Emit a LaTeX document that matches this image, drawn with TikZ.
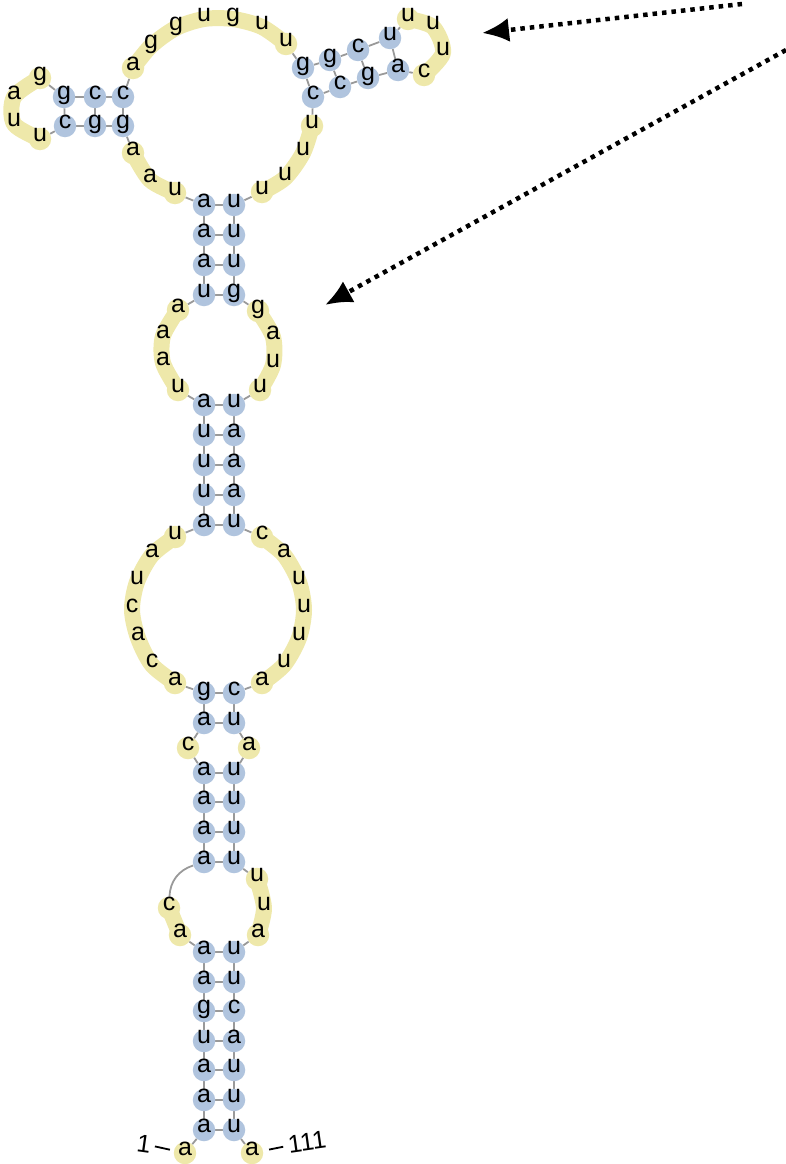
\documentclass[tikz,border=0pt]{standalone}
\usepackage{fontspec}
\setmainfont{Liberation Sans}
\usepackage{xcolor}
\usepackage{tikz}
\usetikzlibrary{arrows.meta, backgrounds}

\definecolor{stemblue}{RGB}{176,196,222}
\definecolor{loopyellow}{RGB}{238,232,170}
\definecolor{linkgray}{RGB}{153,153,153}

\begin{document}
\begin{tikzpicture}[x=1pt, y=-1pt,
	nt/.style={circle, minimum size=22.5pt, inner sep=0pt, text height=1ex, text depth=0pt, font=\fontsize{25}{25}\selectfont},
	ntp/.style={nt, fill=stemblue},
	ntu/.style={nt},
	nte/.style={nt, fill=loopyellow},
	bb/.style={draw=linkgray, line width=1.8pt},
	band/.style={draw=loopyellow, line width=16pt, line cap=round, line join=round},
	num/.style={inner sep=0pt, font=\fontsize{25}{25}\selectfont},
	pointer/.style={line width=4.5pt, dash pattern=on 4.5pt off 5pt, -{Latex[length=27pt,width=24pt]}}]
			\useasboundingbox (0,0) rectangle (786,1164);
			
			% nucleotides, 5' to 3'
			\foreach \i/\x/\y/\base/\t in {
				1/185/1153/a/e, 2/204/1130/a/p, 3/204/1100/a/p, 4/204/1070/a/p,
				5/204/1041/u/p, 6/204/1011/g/p, 7/204/982/a/p, 8/204/952/a/p,
				9/180/935/a/e, 10/169/908/c/e,
				11/204/862/a/p, 12/204/832/a/p, 13/204/802/a/p, 14/204/773/a/p,
				15/188/748/c/e, 16/204/723/a/p, 17/204/693/g/p,
				18/175/683/a/e, 19/152/665/c/u, 20/138/638/a/u, 21/132/610/c/u,
				22/137/582/u/u, 23/152/555/a/u, 24/175/537/u/e,
				25/204/525/a/p, 26/204/495/u/p, 27/204/465/u/p, 28/204/435/u/p, 29/204/405/a/p,
				30/178/390/u/e, 31/163/363/a/u, 32/163/336/a/u, 33/178/310/a/e,
				34/204/295/u/p, 35/204/265/a/p, 36/204/235/a/p, 37/204/205/a/p,
				38/175/193/u/e, 39/150/180/a/u, 40/133/153/a/e,
				41/123/126/g/p, 42/95/126/g/p, 43/65/126/c/p,
				44/40/139/u/e, 45/14/124/u/u, 46/14/97/a/u, 47/40/78/g/e,
				48/64/97/g/p, 49/95/97/c/p, 50/123/97/c/p,
				51/133/68/a/e, 52/151/46/g/u, 53/176/28/g/u, 54/204/19/u/u,
				55/233/19/g/u, 56/262/27/u/u, 57/286/44/u/e,
				58/303/68/g/p, 59/330/60/g/p, 60/358/50/c/p, 61/390/38/u/p,
				62/408/19/u/e, 63/433/27/u/u, 64/443/53/u/u, 65/424/75/c/e,
				66/398/70/a/p, 67/368/78/g/p, 68/340/87/c/p, 69/313/97/c/p,
				70/312/126/u/e, 71/303/153/u/u, 72/285/178/u/u, 73/262/192/u/e,
				74/234/205/u/p, 75/234/235/u/p, 76/234/265/u/p, 77/234/295/g/p,
				78/258/311/g/e, 79/273/337/a/u, 80/273/365/u/u, 81/260/390/u/e,
				82/234/405/u/p, 83/234/435/a/p, 84/234/465/a/p, 85/234/495/a/p, 86/234/525/u/p,
				87/262/537/c/e, 88/284/555/a/u, 89/299/582/u/u, 90/304/610/u/u,
				91/299/638/u/u, 92/284/665/u/u, 93/262/683/a/e,
				94/234/693/c/p, 95/234/723/u/p, 96/249/748/a/e,
				97/234/773/u/p, 98/234/802/u/p, 99/234/832/u/p, 100/234/862/u/p,
				101/257/879/u/e, 102/264/908/u/u, 103/258/935/a/e,
				104/234/952/u/p, 105/234/982/u/p, 106/234/1011/c/p, 107/234/1041/a/p,
				108/234/1070/u/p, 109/234/1100/u/p, 110/234/1130/u/p,
				111/252/1153/a/e}{
				\node[nt\t] (n\i) at (\x,\y) {\base};
			}
			
			\begin{scope}[on background layer]
				% backbone
				\foreach \i in {1,...,9,11,12,...,110}{
					\pgfmathtruncatemacro{\j}{\i+1}
					\draw[bb] (n\i) -- (n\j);
				}
				\draw[bb] (n10) to[bend left=35] (n11);
				% base pairs
				\foreach \a/\b in {
					2/110, 3/109, 4/108, 5/107, 6/106, 7/105, 8/104,
					11/100, 12/99, 13/98, 14/97, 16/95, 17/94,
					25/86, 26/85, 27/84, 28/83, 29/82,
					34/77, 35/76, 36/75, 37/74,
					41/50, 42/49, 43/48,
					58/69, 59/68, 60/67, 61/66}{
					\draw[bb] (n\a) -- (n\b);
				}
				% unpaired stretches
				\draw[band] (n9.center) -- (n10.center);
				\draw[band] plot[smooth] coordinates {(n18.center) (n19.center) (n20.center) (n21.center) (n22.center) (n23.center) (n24.center)};
				\draw[band] plot[smooth] coordinates {(n30.center) (n31.center) (n32.center) (n33.center)};
				\draw[band] plot[smooth] coordinates {(n38.center) (n39.center) (n40.center)};
				\draw[band] plot[smooth] coordinates {(n44.center) (n45.center) (n46.center) (n47.center)};
				\draw[band] plot[smooth] coordinates {(n51.center) (n52.center) (n53.center) (n54.center) (n55.center) (n56.center) (n57.center)};
				\draw[band] plot[smooth] coordinates {(n62.center) (n63.center) (n64.center) (n65.center)};
				\draw[band] plot[smooth] coordinates {(n70.center) (n71.center) (n72.center) (n73.center)};
				\draw[band] plot[smooth] coordinates {(n78.center) (n79.center) (n80.center) (n81.center)};
				\draw[band] plot[smooth] coordinates {(n87.center) (n88.center) (n89.center) (n90.center) (n91.center) (n92.center) (n93.center)};
				\draw[band] plot[smooth] coordinates {(n101.center) (n102.center) (n103.center)};
			\end{scope}
			
			% ends
			\node[num, rotate=-8] (lab1) at (144,1144) {1};
			\node[num, rotate=8] (lab111) at (307,1142) {111};
			\draw[line width=1.8pt, shorten <=4pt, shorten >=4pt] (n1) -- (lab1);
			\draw[line width=1.8pt, shorten <=6pt, shorten >=5pt] (n111) -- (lab111);
			
			% pointers
			\coordinate (ptrAstart) at (742,4);
			\coordinate (ptrAtip) at (482,33);
			\coordinate (ptrBstart) at (786,50);
			\coordinate (ptrBtip) at (325,305);
			\draw[pointer] (ptrAstart) -- (ptrAtip);
			\draw[pointer] (ptrBstart) -- (ptrBtip);
		\end{tikzpicture}
\end{document}
